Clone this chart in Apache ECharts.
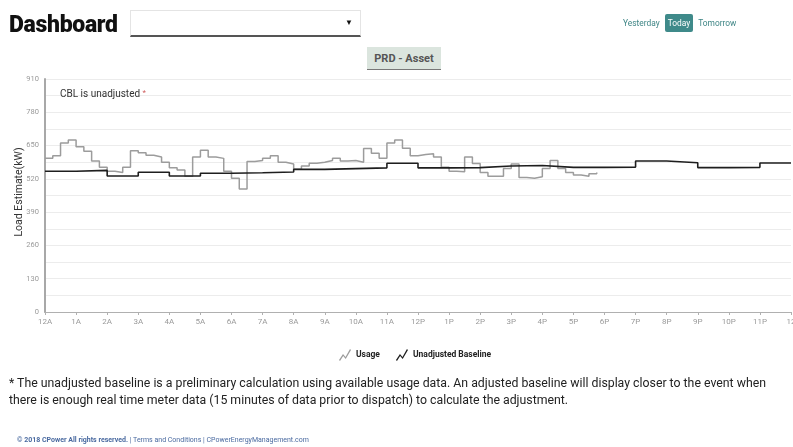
<!DOCTYPE html>
<html>
<head>
<meta charset="utf-8">
<script src="https://cdn.jsdelivr.net/npm/echarts@6/dist/echarts.min.js"></script>
<style>
  html, body { margin:0; padding:0; background:#fff; }
  body { width:793px; height:447px; position:relative; overflow:hidden; font-family: Roboto, "Liberation Sans", Arial, sans-serif; }
  #chart { position:absolute; left:0; top:0; width:793px; height:447px; }
  .abs { position:absolute; white-space:nowrap; }
  #title { left:9px; top:11px; font-size:23px; font-weight:900; color:#111; letter-spacing:-0.3px; }
  #dd { left:130px; top:10px; width:231px; height:27px; border:1px solid #e4e4e4; border-bottom:2px solid #555; box-sizing:border-box; }
  #dd span { position:absolute; right:7px; top:7px; font-size:8px; color:#111; }
  #nav { left:623px; top:18px; font-size:8.4px; color:#3e8585; }
  #nav .today { background:#3f8a8a; color:#fff; padding:4px 3px; border-radius:2px; margin:0 3px; }
  #prd { left:367px; top:47px; width:74px; height:23px; background:#dbe5de; border-bottom:1px solid #777; box-sizing:border-box; font-size:11px; font-weight:bold; color:#555; text-align:center; line-height:23px; }
  #note { left:9px; top:375px; font-size:12.3px; color:#222; line-height:17px; }
  #foot { left:17px; top:436px; font-size:7px; color:#4a6aa0; }
</style>
</head>
<body>
<div id="chart"></div>
<div class="abs" id="title">Dashboard</div>
<div class="abs" id="dd"><span>&#9660;</span></div>
<div class="abs" id="nav">Yesterday <span class="today">Today</span> Tomorrow</div>
<div class="abs" id="prd">PRD - Asset</div>
<div class="abs" id="note">* The unadjusted baseline is a preliminary calculation using available usage data. An adjusted baseline will display closer to the event when<br>there is enough real time meter data (15 minutes of data prior to dispatch) to calculate the adjustment.</div>
<div class="abs" id="foot"><b>© 2018 CPower All rights reserved.</b> | Terms and Conditions | CPowerEnergyManagement.com</div>
<script>
// Tick labels for each hour (0..24)
const hourLabels = ['12A','1A','2A','3A','4A','5A','6A','7A','8A','9A','10A','11A','12P','1P','2P','3P','4P','5P','6P','7P','8P','9P','10P','11P','12'];
// Usage, kW, one value per 15-minute interval starting at midnight (last value closes the final interval)
const usageValues = [600,610,660,672,645,628,590,565,550,545,565,630,622,612,605,585,563,555,530,605,
  632,605,600,550,522,480,588,592,600,610,585,578,558,570,581,585,592,600,590,592,
  585,639,620,600,660,672,640,610,615,618,605,565,550,548,605,580,545,530,530,560,
  578,525,522,528,560,592,560,545,535,530,540,545];
// Unadjusted baseline, kW, one value per hour (last value closes the final hour)
const baselineValues = [550,553,531,546,531,542,544,547,557,560,563,581,563,564,570,572,565,565,566,590,583,564,565,582,582];
const yTicks = [0,130,260,390,520,650,780,910];

const usageData = usageValues.map((v,i)=>[i*0.25, v]);
const baselineData = baselineValues.map((v,i)=>[i, v]);

const chart = echarts.init(document.getElementById('chart'));
const usageIcon = 'path://M0,11 L4,5 L6.5,8 L11,0 L12,1 L6.7,10 L4.2,7 L1,12 Z';
chart.setOption({
  animation:false,
  textStyle:{ fontFamily:'Roboto, "Liberation Sans", Arial, sans-serif' },
  title:{
    text:'CBL is unadjusted {a|*}', left:55, top:84,
    textStyle:{ fontSize:10, fontWeight:'normal', color:'#333', rich:{ a:{ color:'#d06060', fontSize:8, verticalAlign:'top' } } }
  },
  graphic:[{
    type:'text', x:19, y:192, rotation:Math.PI/2,
    style:{ text:'Load Estimate(kW)', fontSize:10.5, fill:'#333', textAlign:'center', textVerticalAlign:'middle',
            fontFamily:'Roboto, "Liberation Sans", Arial, sans-serif' }
  }],
  legend:{
    top:344, left:334, itemWidth:12, itemHeight:12, itemGap:16,
    textStyle:{ fontSize:8.5, fontWeight:'bold', color:'#222' },
    data:[{name:'Usage', icon:usageIcon}, {name:'Unadjusted Baseline', icon:usageIcon}]
  },
  grid:{ left:45, right:2, top:79, bottom:135, containLabel:false, outerBoundsMode:'none' },
  xAxis:{
    type:'value', min:0, max:24, interval:1,
    axisLine:{ lineStyle:{ color:'#b0b0b0', width:1 } },
    axisTick:{ show:true, length:3, lineStyle:{ color:'#b0b0b0' } },
    axisLabel:{ color:'#9a9a9a', fontSize:8, margin:6, formatter:(v)=>hourLabels[Math.round(v)] ?? '' , showMaxLabel:true},
    splitLine:{ show:false }
  },
  yAxis:{
    type:'value', min:0, max:910, interval:65,
    axisLine:{ show:true, lineStyle:{ color:'#a8a8a8', width:2 } },
    axisTick:{ show:false },
    axisLabel:{ color:'#9a9a9a', fontSize:7.5, margin:6, formatter:(v)=> yTicks.includes(v) ? String(v) : '' },
    splitLine:{ lineStyle:{ color:'#ececec', width:1 } }
  },
  series:[
    { name:'Usage', type:'line', step:'end', data:usageData, symbol:'none',
      lineStyle:{ color:'#9c9c9c', width:1.5 }, itemStyle:{ color:'#9c9c9c' } },
    { name:'Unadjusted Baseline', type:'line', step:'end', data:baselineData, symbol:'none',
      lineStyle:{ color:'#1e1e1e', width:1.6 }, itemStyle:{ color:'#1e1e1e' } }
  ]
});
</script>
</body>
</html>
